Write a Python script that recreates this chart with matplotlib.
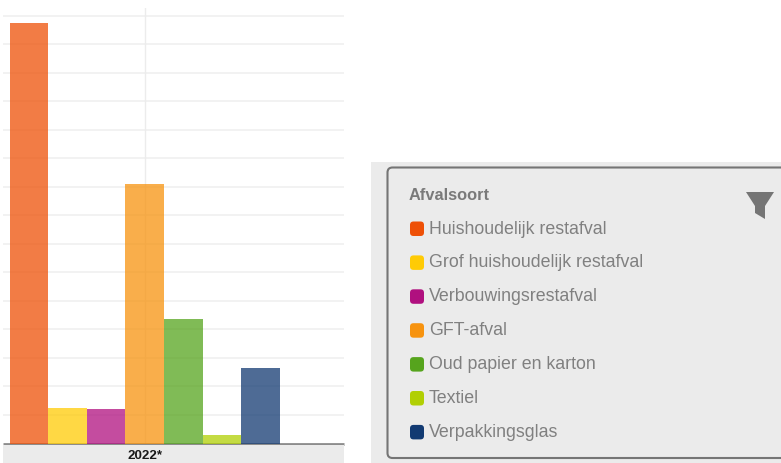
#! /usr/bin/env python3

import numpy as np
import matplotlib
matplotlib.use('Agg')
import matplotlib.pyplot as plt
from matplotlib.patches import FancyBboxPatch, Polygon, Rectangle

# data (one grid step = 1 unit, axis has no labels)
categories = ['Huishoudelijk restafval', 'Grof huishoudelijk restafval', 'Verbouwingsrestafval',
              'GFT-afval', 'Oud papier en karton', 'Textiel', 'Verpakkingsglas']
values = [14.77, 1.26, 1.21, 9.10, 4.37, 0.30, 2.65]
colors = ['#ee5007', '#ffcb05', '#b0107f', '#f7930f', '#56a41d', '#b1cf04', '#123a72']
year_label = '2022*'
legend_title = 'Afvalsoort'
grid_levels = range(1, 16)

W, H = 781, 463
plt.rcParams['font.family'] = ['Liberation Sans', 'DejaVu Sans']
fig = plt.figure(figsize=(W/100, H/100), dpi=100, facecolor='white')

# chart area: x 3..344, y 8..443.5 in pixels
ax = fig.add_axes([3/W, 1-443.5/H, 341/W, 435.5/H])
x = np.arange(len(values))
ax.bar(x, values, width=1.0, color=colors, alpha=0.75, linewidth=0, zorder=3)
for lev in grid_levels:
    ax.axhline(lev, color='#efefef', linewidth=1.1, zorder=1)
ax.axvline(3, color='#ececec', linewidth=1.0, zorder=1)
ax.set_xlim(-0.67, 8.165)
ax.set_ylim(0, 15.28)
ax.set_yticks([])
ax.set_xticks([])
for side in ('top', 'left', 'right'):
    ax.spines[side].set_visible(False)
ax.spines['bottom'].set_color('#8c8c8c')
ax.spines['bottom'].set_linewidth(2.0)
ax.spines['bottom'].set_capstyle('butt')

# everything else in pixel coordinates
ov = fig.add_axes([0, 0, 1, 1], zorder=5)
ov.set_xlim(0, W)
ov.set_ylim(H, 0)
ov.axis('off')
ov.patch.set_alpha(0)

# grey strip with the year under the axis
ov.add_patch(Rectangle((3, 445), 341, 18, color='#ebebeb', linewidth=0))
ov.text(145, 456, year_label, fontsize=9.6, fontweight='bold', color='#1a1a1a', ha='center', va='center')

# legend panel
ov.add_patch(Rectangle((371, 162), W-371, H-162, color='#ebebeb', linewidth=0))
ov.add_patch(FancyBboxPatch((387.5, 167.5), 420, 290.5, boxstyle='round,pad=0,rounding_size=5',
                            facecolor='#ebebeb', edgecolor='#757575', linewidth=1.5))
ov.text(409, 195, legend_title, fontsize=11.8, fontweight='bold', color='#7a7a7a', va='center')

ypos = 228.5
for name, col in zip(categories, colors):
    ov.add_patch(FancyBboxPatch((410, ypos-7), 14, 14.5, boxstyle='round,pad=0,rounding_size=3.5',
                                facecolor=col, edgecolor='none'))
    ov.text(429, ypos+0.5, name, fontsize=12.8, color='#808080', va='center')
    ypos += 33.9

# funnel icon
ov.add_patch(Polygon([(746, 192), (774, 192), (765, 206), (765, 219), (755, 213), (755, 206)],
                     closed=True, facecolor='#757575', edgecolor='none'))

fig.savefig('out.png', dpi=100, facecolor='white')
